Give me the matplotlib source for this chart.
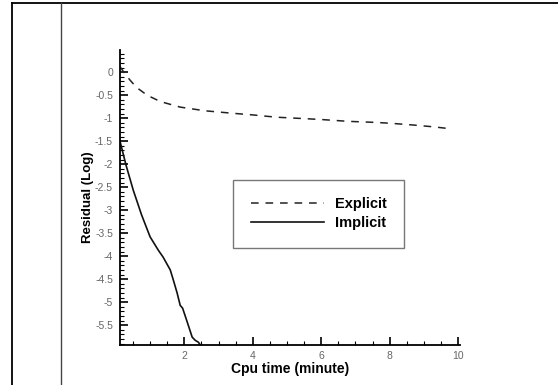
import matplotlib
matplotlib.use("Agg")
import matplotlib.pyplot as plt
from matplotlib.lines import Line2D
from matplotlib.ticker import MultipleLocator

# residual histories (log10) against cpu time in minutes
explicit_t = [0.12, 0.25, 0.41, 0.6, 0.91, 1.3, 1.88, 2.6, 3.35, 4.0, 4.7, 5.5, 6.0, 6.8, 7.5, 8.0, 8.7, 9.3, 9.76]
explicit_r = [0.12, -0.02, -0.17, -0.33, -0.5, -0.64, -0.76, -0.84, -0.89, -0.93, -0.98, -1.01, -1.03, -1.07, -1.09, -1.11, -1.15, -1.19, -1.23]

implicit_t = [0.12, 0.3, 0.51, 0.75, 1.0, 1.24, 1.38, 1.59, 1.68, 1.79, 1.88, 1.95, 2.08, 2.23, 2.32, 2.41, 2.47]
implicit_r = [-1.5, -2.03, -2.57, -3.1, -3.58, -3.87, -4.02, -4.3, -4.52, -4.8, -5.07, -5.13, -5.42, -5.76, -5.83, -5.87, -5.93]

plt.rcParams['font.family'] = ['Liberation Sans', 'DejaVu Sans']

fig = plt.figure(figsize=(5.58, 3.85), dpi=100)
ax = fig.add_axes([0.215, 0.104, 0.609, 0.766])

ax.plot(explicit_t, explicit_r, color='#222222', lw=1.1, ls=(0, (5, 4.5)), label='Explicit')
ax.plot(implicit_t, implicit_r, color='#111111', lw=1.2, label='Implicit')

ax.set_xlim(0.12, 10.05)
ax.set_ylim(-5.93, 0.48)
ax.xaxis.set_major_locator(MultipleLocator(2))
ax.xaxis.set_minor_locator(MultipleLocator(0.5))
ax.yaxis.set_major_locator(MultipleLocator(0.5))
ax.yaxis.set_minor_locator(MultipleLocator(0.1))
ax.set_yticks([0, -0.5, -1, -1.5, -2, -2.5, -3, -3.5, -4, -4.5, -5, -5.5])
ax.set_xticks([2, 4, 6, 8, 10])
ax.set_yticklabels(['0', '-0.5', '-1', '-1.5', '-2', '-2.5', '-3', '-3.5', '-4', '-4.5', '-5', '-5.5'])

ax.tick_params(which='major', direction='in', length=6, width=1.2, labelsize=7.5,
               labelcolor='#666666')
ax.tick_params(axis='y', which='major', pad=5)
ax.tick_params(axis='x', which='major', pad=4)
ax.tick_params(which='minor', direction='in', length=3, width=0.8)

for side in ['top', 'right']:
    ax.spines[side].set_visible(False)
for side in ['left', 'bottom']:
    ax.spines[side].set_linewidth(1.3)

ax.set_xlabel('Cpu time (minute)', fontsize=10, fontweight='bold', labelpad=1)
ax.set_ylabel('Residual (Log)', fontsize=9.5, fontweight='bold', labelpad=1)

leg = ax.legend(loc='upper left', bbox_to_anchor=(0.333, 0.56), frameon=True, fancybox=False,
                edgecolor='#555555', fontsize=10.5, handlelength=5.0, handletextpad=0.8,
                borderpad=1.2, labelspacing=0.35, borderaxespad=0)
for t in leg.get_texts():
    t.set_fontweight('bold')
leg.get_frame().set_linewidth(1.0)

# table rules around the chart
fig.add_artist(Line2D([12 / 558, 1], [1 - 2.5 / 385, 1 - 2.5 / 385], color='black', lw=1.3))
fig.add_artist(Line2D([12 / 558, 12 / 558], [0, 1 - 2.5 / 385], color='black', lw=1.3))
fig.add_artist(Line2D([61 / 558, 61 / 558], [0, 1 - 2.5 / 385], color='#444444', lw=1.0))

fig.savefig('out.png', dpi=100)
